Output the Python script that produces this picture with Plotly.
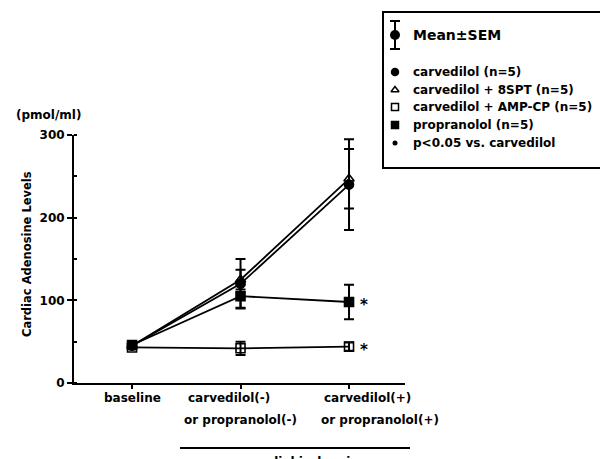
import plotly.graph_objects as go

W, H = 600, 459

# ---------------- data ----------------
categories = ["baseline", "carvedilol(-)<br>or propranolol(-)", "carvedilol(+)<br>or propranolol(+)"]
xpos = [0, 1, 2]

carv_y = [45, 120, 240]
carv_err = [3, 30, 55]
spt_y = [45, 125, 247]
spt_err = [3, 12, 36]
amp_y = [43, 42, 44]
amp_err = [2, 8, 5]
prop_y = [46, 105, 98]
prop_err = [3, 14, 21]

series_names = ["carvedilol (n=5)", "carvedilol + 8SPT (n=5)",
                "carvedilol + AMP-CP (n=5)", "propranolol (n=5)"]
sig_note = "p<0.05 vs. carvedilol"
mean_note = "Mean\u00b1SEM"
ytick_vals = [0, 100, 200, 300]
y_title = "Cardiac Adenosine Levels"
y_unit = "(pmol/ml)"
bracket_label = "myocardial ischemia"

FONT = "DejaVu Sans"


def px(x):
    return x / W


def py(y):
    return (H - y) / H


fig = go.Figure()

symbols = ["circle", "triangle-up-open", "square-open", "square"]
series = [(carv_y, carv_err), (spt_y, spt_err), (amp_y, amp_err), (prop_y, prop_err)]

for (yv, ev), sym, name in zip(series, symbols, series_names):
    fig.add_trace(go.Scatter(
        x=xpos, y=yv, mode="lines+markers", name=name,
        line=dict(color="black", width=1.8),
        marker=dict(symbol=sym, size=9, color="black",
                    line=dict(color="black", width=1.6)),
        error_y=dict(type="data", array=ev, visible=True,
                     color="black", thickness=2, width=5),
        showlegend=False, xaxis="x", yaxis="y"))

# significance stars
for yv in (prop_y, amp_y):
    fig.add_annotation(x=xpos[2], y=yv[2], xref="x", yref="y", text="*",
                       showarrow=False, xshift=15, yshift=-3,
                       font=dict(family=FONT, size=15, color="black", weight="bold"))

# ---------- custom legend (second axis in pixel coords) ----------
LX0, LX1, LY0, LY1 = 383, 600, 12, 168
rows = [72, 90, 107, 125]
mx, tx = 395, 411

fig.add_trace(go.Scatter(
    x=[mx], y=[35], mode="markers",
    marker=dict(symbol="circle", size=10, color="black"),
    error_y=dict(type="constant", value=14, color="black", thickness=2, width=5),
    showlegend=False, xaxis="x2", yaxis="y2"))
fig.add_annotation(x=tx, y=35, xref="x2", yref="y2", text=mean_note, showarrow=False,
                   xanchor="left", font=dict(family=FONT, size=14, color="black", weight="bold"))

for r, sym, name in zip(rows, symbols, series_names):
    fig.add_trace(go.Scatter(
        x=[mx], y=[r], mode="markers",
        marker=dict(symbol=sym, size=7, color="black",
                    line=dict(color="black", width=1.5)),
        showlegend=False, xaxis="x2", yaxis="y2"))
    fig.add_annotation(x=tx, y=r, xref="x2", yref="y2", text=name, showarrow=False,
                       xanchor="left", font=dict(family=FONT, size=12, color="black", weight="bold"))

fig.add_trace(go.Scatter(
    x=[mx], y=[143], mode="markers",
    marker=dict(symbol="circle", size=5, color="black"),
    showlegend=False, xaxis="x2", yaxis="y2"))
fig.add_annotation(x=tx, y=143, xref="x2", yref="y2", text=sig_note, showarrow=False,
                   xanchor="left", font=dict(family=FONT, size=12, color="black", weight="bold"))

fig.add_shape(type="rect", xref="paper", yref="paper",
              x0=px(LX0), x1=px(LX1 + 10), y0=py(LY1), y1=py(LY0),
              line=dict(color="black", width=2))

# ---------- x category labels ----------
label_lines = [c.split("<br>") for c in categories]
shifts = [[0], [-12, 0], [18, 31]]
line_y = [398, 420]
for xi, lines, sh in zip(xpos, label_lines, shifts):
    for k, (t, s) in enumerate(zip(lines, sh)):
        fig.add_annotation(x=xi, y=py(line_y[k]), xref="x", yref="paper", text=t,
                           showarrow=False, xshift=s, xanchor="center", yanchor="middle",
                           font=dict(family=FONT, size=12, color="black", weight="bold"))

# ischemia bracket line and label
fig.add_shape(type="line", xref="paper", yref="paper",
              x0=px(180), x1=px(410), y0=py(448), y1=py(448),
              line=dict(color="black", width=2))
fig.add_annotation(x=px(289), y=py(453), xref="paper", yref="paper", text=bracket_label,
                   showarrow=False, xanchor="center", yanchor="top",
                   font=dict(family=FONT, size=12, color="black", weight="bold"))

# y title and unit
fig.add_annotation(x=px(27), y=py(254), xref="paper", yref="paper", text=y_title,
                   showarrow=False, textangle=-90, xanchor="center", yanchor="middle",
                   font=dict(family=FONT, size=11.5, color="black", weight="bold"))
fig.add_annotation(x=px(14), y=py(115), xref="paper", yref="paper", text=y_unit,
                   showarrow=False, xanchor="left", yanchor="middle",
                   font=dict(family=FONT, size=12, color="black", weight="bold"))

fig.update_layout(
    template="none",
    width=W, height=H,
    margin=dict(l=0, r=0, t=0, b=0, pad=0),
    paper_bgcolor="white", plot_bgcolor="white",
    font=dict(family=FONT, color="black"),
    showlegend=False,
    xaxis=dict(domain=[px(74), px(405)], range=[-0.535, 2.516], automargin=False,
               tickvals=xpos, showticklabels=False, ticks="outside", ticklen=4,
               tickwidth=1.5, tickcolor="black", showline=True, linecolor="black",
               linewidth=2, showgrid=False, zeroline=False, fixedrange=True),
    yaxis=dict(domain=[py(383), py(135)], range=[0, 300], tickvals=ytick_vals,
               automargin=False,
               ticks="outside", ticklen=5, tickwidth=2, tickcolor="black",
               showline=True, linecolor="black", linewidth=2, showgrid=False,
               zeroline=False,
               tickfont=dict(family=FONT, size=12, color="black", weight="bold"),
               minor=dict(dtick=50, ticks="inside", ticklen=3, tickwidth=1.5,
                          tickcolor="black", showgrid=False)),
    xaxis2=dict(domain=[px(LX0), 1.0], range=[LX0, LX1], visible=False,
                anchor="y2", fixedrange=True, automargin=False),
    yaxis2=dict(domain=[py(LY1), py(LY0)], range=[LY1, LY0], visible=False,
                anchor="x2", fixedrange=True, automargin=False),
)

fig.write_html("out.html", config={"displayModeBar": False},
               post_script="document.body.style.margin='0px';"
                           "document.body.style.overflow='hidden';")
